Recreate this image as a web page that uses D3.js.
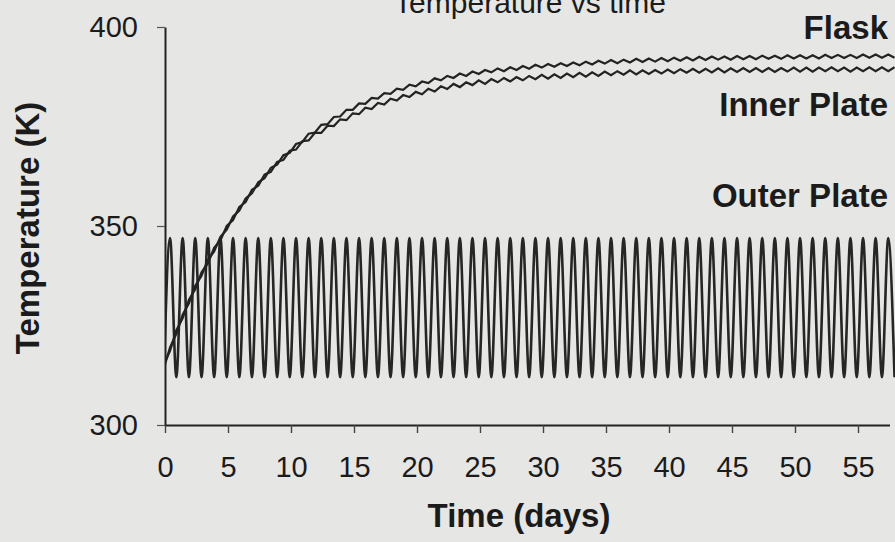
<!DOCTYPE html>
<html>
<head>
<meta charset="utf-8">
<script src="https://cdn.jsdelivr.net/npm/d3@7/dist/d3.min.js"></script>
<style>
  html, body { margin: 0; padding: 0; background: #e6e6e4; }
  svg { display: block; }
  text { font-family: "Liberation Sans", Arial, Helvetica, sans-serif; fill: #1b1b1b; }
</style>
</head>
<body>
<script>
// ---------- data ----------
const seriesNames = ["Flask", "Inner Plate", "Outer Plate"];
const xTicks = [0, 5, 10, 15, 20, 25, 30, 35, 40, 45, 50, 55];
const yTicks = [300, 350, 400];
const sampleStart = -0.1;   // day of first sample
const sampleStep = 0.5;     // days between samples

const flask = [
  314.2, 319.5, 322.9, 327.7, 330.6, 335.0, 337.5, 341.5, 343.6, 347.3,
  349.1, 352.4, 353.9, 356.9, 358.2, 361.0, 362.0, 364.6, 365.4, 367.8,
  368.4, 370.6, 371.1, 373.2, 373.5, 375.4, 375.6, 377.4, 377.5, 379.2,
  379.2, 380.8, 380.7, 382.2, 382.0, 383.4, 383.2, 384.5, 384.2, 385.5,
  385.1, 386.3, 385.9, 387.1, 386.6, 387.7, 387.2, 388.3, 387.7, 388.8,
  388.2, 389.2, 388.6, 389.6, 388.9, 389.9, 389.2, 390.2, 389.5, 390.5,
  389.8, 390.7, 390.0, 390.9, 390.2, 391.1, 390.4, 391.3, 390.6, 391.5,
  390.8, 391.7, 390.9, 391.8, 391.1, 392.0, 391.2, 392.1, 391.3, 392.2,
  391.4, 392.3, 391.5, 392.4, 391.6, 392.5, 391.7, 392.6, 391.8, 392.6,
  391.8, 392.7, 391.9, 392.7, 391.9, 392.8, 392.0, 392.8, 392.0, 392.9,
  392.1, 392.9, 392.1, 392.9, 392.1, 393.0, 392.2, 393.0, 392.2, 393.0,
  392.2, 393.1, 392.3, 393.1, 392.3, 393.1, 392.3
];

const innerPlate = [
  315.1, 318.6, 323.8, 326.8, 331.5, 334.1, 338.4, 340.6, 344.5, 346.4,
  350.0, 351.5, 354.8, 356.0, 359.1, 360.1, 362.9, 363.6, 366.1, 366.6,
  368.9, 369.2, 371.3, 371.5, 373.4, 373.4, 375.2, 375.1, 376.8, 376.6,
  378.3, 378.1, 379.7, 379.4, 380.9, 380.5, 382.0, 381.5, 382.9, 382.4,
  383.7, 383.1, 384.5, 383.8, 385.1, 384.4, 385.7, 384.9, 386.1, 385.4,
  386.6, 385.7, 386.9, 386.1, 387.2, 386.3, 387.4, 386.6, 387.7, 386.9,
  388.0, 387.0, 388.1, 387.2, 388.3, 387.4, 388.5, 387.5, 388.6, 387.7,
  388.8, 387.9, 388.9, 388.0, 389.1, 388.1, 389.1, 388.2, 389.2, 388.3,
  389.3, 388.4, 389.4, 388.5, 389.5, 388.5, 389.5, 388.6, 389.6, 388.6,
  389.6, 388.7, 389.7, 388.7, 389.7, 388.7, 389.7, 388.7, 389.7, 388.8,
  389.8, 388.8, 389.8, 388.8, 389.8, 388.9, 389.9, 388.9, 389.8, 388.8,
  389.8, 388.9, 389.9, 388.9, 389.9, 388.9, 389.9
];

const outerPlate = [
  312, 347, 312, 347, 312, 347, 312, 347, 312, 347,
  312, 347, 312, 347, 312, 347, 312, 347, 312, 347,
  312, 347, 312, 347, 312, 347, 312, 347, 312, 347,
  312, 347, 312, 347, 312, 347, 312, 347, 312, 347,
  312, 347, 312, 347, 312, 347, 312, 347, 312, 347,
  312, 347, 312, 347, 312, 347, 312, 347, 312, 347,
  312, 347, 312, 347, 312, 347, 312, 347, 312, 347,
  312, 347, 312, 347, 312, 347, 312, 347, 312, 347,
  312, 347, 312, 347, 312, 347, 312, 347, 312, 347,
  312, 347, 312, 347, 312, 347, 312, 347, 312, 347,
  312, 347, 312, 347, 312, 347, 312, 347, 312, 347,
  312, 347, 312, 347, 312, 347, 312
];

// ---------- chart ----------
const W = 895, H = 542;
const svg = d3.select("body").append("svg").attr("width", W).attr("height", H);

const x = d3.scaleLinear().domain([0, 57.5]).range([165, 889.5]);
const y = d3.scaleLinear().domain([300, 400]).range([425, 27]);

svg.append("defs").append("clipPath").attr("id", "plot")
  .append("rect").attr("x", x(0)).attr("y", 0).attr("width", W - x(0)).attr("height", H);

const toPoints = arr => arr.map((v, i) => [sampleStart + i * sampleStep, v]);

const g = svg.append("g").attr("clip-path", "url(#plot)");

// outer plate (smooth oscillation)
g.append("path")
  .datum(toPoints(outerPlate))
  .attr("fill", "none").attr("stroke", "#262626").attr("stroke-width", 2.6)
  .attr("d", d3.line().x(d => x(d[0])).y(d => y(d[1])).curve(d3.curveMonotoneX));

// flask & inner plate (zig-zag)
[flask, innerPlate].forEach(arr => {
  g.append("path")
    .datum(toPoints(arr))
    .attr("fill", "none").attr("stroke", "#232323").attr("stroke-width", 2.2)
    .attr("stroke-linejoin", "miter")
    .attr("d", d3.line().x(d => x(d[0])).y(d => y(d[1])));
});

// axes
const xAxis = svg.append("g").attr("transform", `translate(0,${y(300)})`)
  .call(d3.axisBottom(x).tickValues(xTicks).tickSize(8).tickSizeOuter(0).tickPadding(23));
xAxis.select(".domain").attr("stroke", "#222").attr("stroke-width", 2);
xAxis.selectAll(".tick line").attr("stroke", "#444").attr("stroke-width", 1.4);
xAxis.selectAll(".tick text").attr("font-size", 29).attr("fill", "#1b1b1b")
  .style("font-family", "'Liberation Sans', Arial, sans-serif");

const yAxis = svg.append("g").attr("transform", `translate(${x(0)},0)`)
  .call(d3.axisLeft(y).tickValues(yTicks).tickSize(8).tickSizeOuter(0).tickPadding(19));
yAxis.select(".domain").attr("stroke", "#222").attr("stroke-width", 2);
yAxis.selectAll(".tick line").attr("stroke", "#555").attr("stroke-width", 1.2);
yAxis.selectAll(".tick text").attr("font-size", 29).attr("fill", "#1b1b1b")
  .style("font-family", "'Liberation Sans', Arial, sans-serif");

// title (cut off at the top in the original)
svg.append("text").attr("x", 530).attr("y", 13).attr("text-anchor", "middle")
  .attr("font-size", 30).text("Temperature vs time");

// axis titles
svg.append("text").attr("x", 519).attr("y", 527).attr("text-anchor", "middle")
  .attr("font-size", 33).attr("font-weight", "bold").text("Time (days)");

svg.append("text").attr("transform", "translate(39,228) rotate(-90)")
  .attr("text-anchor", "middle").attr("font-size", 33).attr("font-weight", "bold")
  .text("Temperature (K)");

// series labels
const labelY = [39, 116, 207];
seriesNames.forEach((name, i) => {
  svg.append("text").attr("x", 888).attr("y", labelY[i]).attr("text-anchor", "end")
    .attr("font-size", 33).attr("font-weight", "bold").text(name);
});
</script>
</body>
</html>
